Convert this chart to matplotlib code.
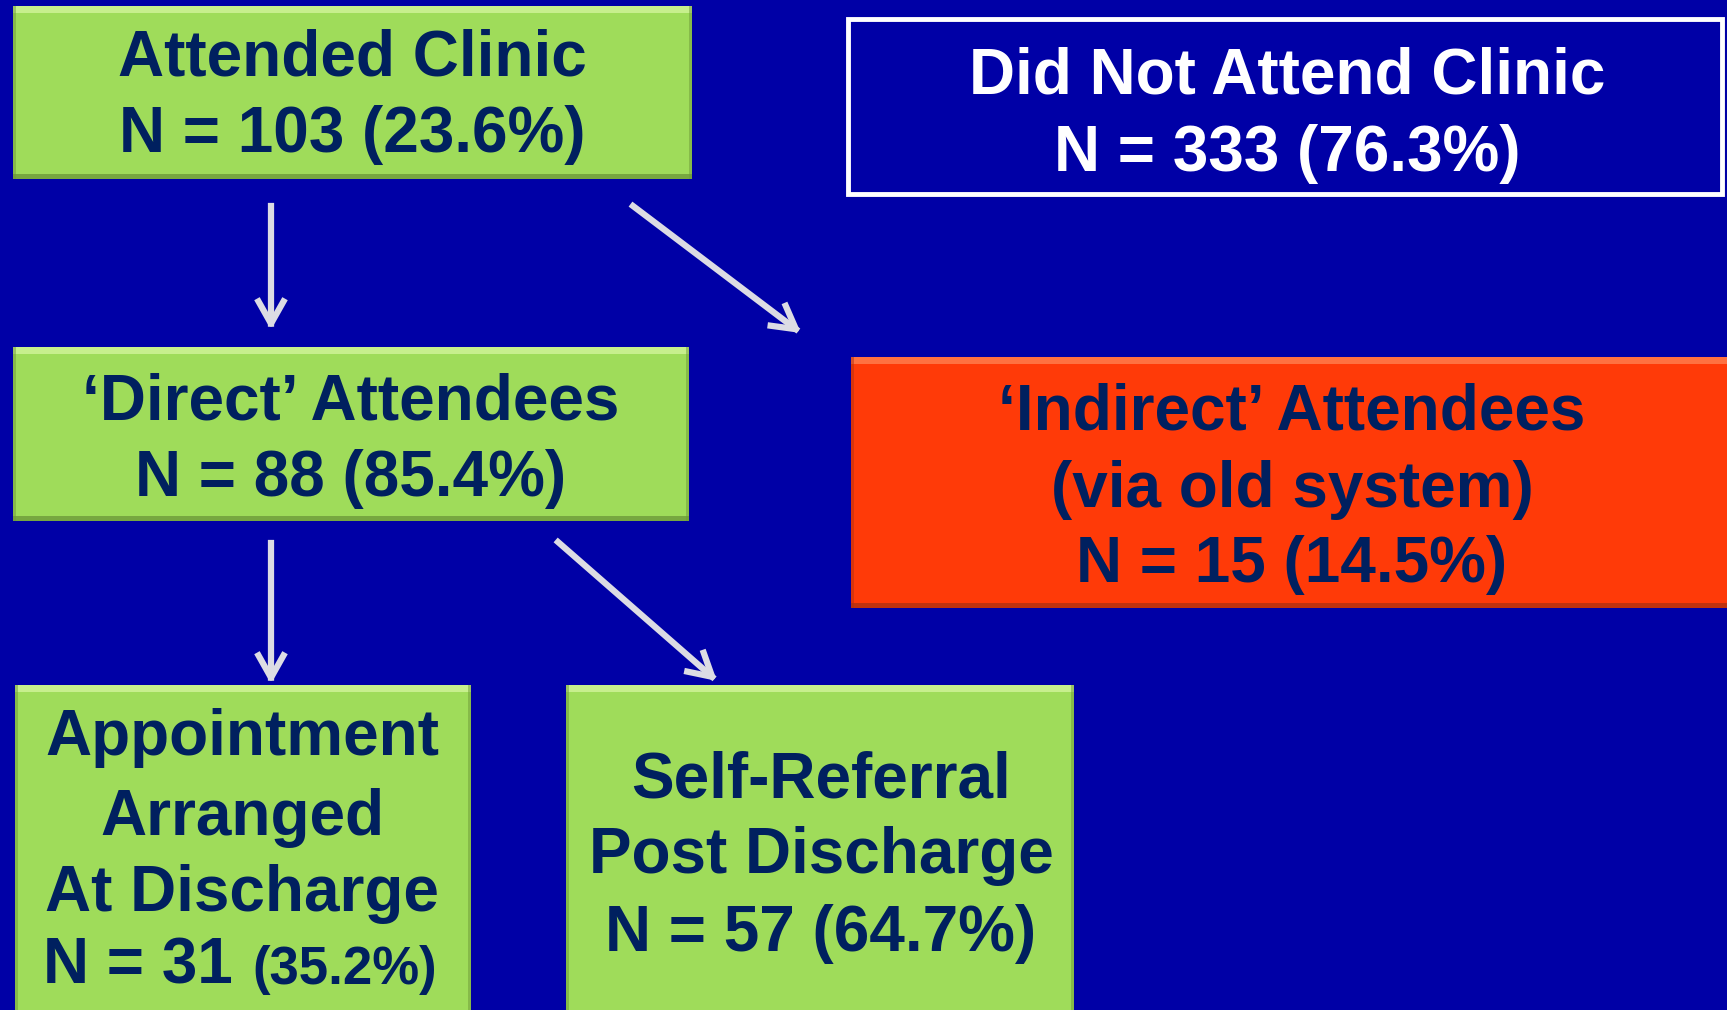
import matplotlib
matplotlib.use("Agg")
import matplotlib.pyplot as plt
from matplotlib.patches import Rectangle, FancyArrowPatch

# ---- data ----
box_titles = ["Attended Clinic", "Did Not Attend Clinic", "\u2018Direct\u2019 Attendees",
              "\u2018Indirect\u2019 Attendees\n(via old system)",
              "Appointment\nArranged\nAt Discharge", "Self-Referral\nPost Discharge"]
box_counts = [103, 333, 88, 15, 31, 57]
box_percents = [23.6, 76.3, 85.4, 14.5, 35.2, 64.7]

W, H = 1727, 1010
BG = "#0000A6"
GREEN = "#9FDC5A"
ORANGE = "#FF3A08"
NAVY = "#00205F"
ARROW = "#DCDCE4"
FONT = ["Liberation Sans", "DejaVu Sans"]

fig = plt.figure(figsize=(W / 100, H / 100), dpi=100, facecolor=BG)
ax = fig.add_axes([0, 0, 1, 1])
ax.set_xlim(0, W)
ax.set_ylim(H, 0)
ax.axis("off")
ax.set_facecolor(BG)


def bevel_box(x0, y0, x1, y1, color, light, dark):
    ax.add_patch(Rectangle((x0, y0), x1 - x0, y1 - y0, facecolor=color, edgecolor="none", zorder=2))
    ax.add_patch(Rectangle((x0, y0), x1 - x0, 7, facecolor=light, edgecolor="none", alpha=0.8, zorder=3))
    ax.add_patch(Rectangle((x0, y1 - 5), x1 - x0, 5, facecolor=dark, edgecolor="none", alpha=0.8, zorder=3))
    ax.add_patch(Rectangle((x0, y0), 3, y1 - y0, facecolor=dark, edgecolor="none", alpha=0.5, zorder=3))
    ax.add_patch(Rectangle((x1 - 3, y0), 3, y1 - y0, facecolor=dark, edgecolor="none", alpha=0.5, zorder=3))


def lines(x, baselines, texts, color, size):
    for b, t in zip(baselines, texts):
        ax.text(x, b, t, ha="center", va="baseline", fontsize=size, fontweight="bold",
                color=color, family=FONT, zorder=5)


def ntext(i):
    return f"N = {box_counts[i]} ({box_percents[i]:.1f}%)"


# Box 1: Attended Clinic
bevel_box(13, 6, 692, 179, GREEN, "#D2F59A", "#6E9A3A")
lines(352, [75, 152], [box_titles[0], ntext(0)], NAVY, 46)

# Box 2: Did Not Attend Clinic
ax.add_patch(Rectangle((848, 19), 874, 175, facecolor=BG, edgecolor="white", lw=3.5, zorder=2))
lines(1287, [94, 171], [box_titles[1], ntext(1)], "white", 46)

# Box 3: Direct
bevel_box(13, 347, 689, 521, GREEN, "#D2F59A", "#6E9A3A")
lines(351, [419, 496], [box_titles[2], ntext(2)], NAVY, 46)

# Box 4: Indirect
bevel_box(851, 357, W + 5, 608, ORANGE, "#FF8050", "#B03010")
lines(1292, [430, 507, 582], box_titles[3].split("\n") + [ntext(3)], NAVY, 46)

# Box 5: Appointment
bevel_box(15, 685, 471, H + 10, GREEN, "#D2F59A", "#6E9A3A")
lines(242, [755, 835, 911], box_titles[4].split("\n"), NAVY, 46)
ax.text(233, 984, f"N = {box_counts[4]}", ha="right", va="baseline", fontsize=46,
        fontweight="bold", color=NAVY, family=FONT, zorder=5)
ax.text(252, 984, f"({box_percents[4]:.1f}%)", ha="left", va="baseline", fontsize=38,
        fontweight="bold", color=NAVY, family=FONT, zorder=5)

# Box 6: Self-Referral
bevel_box(566, 685, 1074, H + 10, GREEN, "#D2F59A", "#6E9A3A")
lines(821, [797, 873], box_titles[5].split("\n"), NAVY, 46)
lines(821, [951], [ntext(5)], NAVY, 46)

# Arrows
arrows = [((271, 206), (271, 330)), ((633, 206), (801, 333)),
          ((271, 543), (271, 684)), ((558, 542), (717, 681))]
for (p0, p1) in arrows:
    a = FancyArrowPatch(p0, p1, arrowstyle="->,head_length=16,head_width=9",
                        color=ARROW, lw=4.5, mutation_scale=1, shrinkA=0, shrinkB=0,
                        capstyle="projecting", zorder=4)
    ax.add_patch(a)

fig.savefig("out.png", dpi=100, facecolor=BG)
